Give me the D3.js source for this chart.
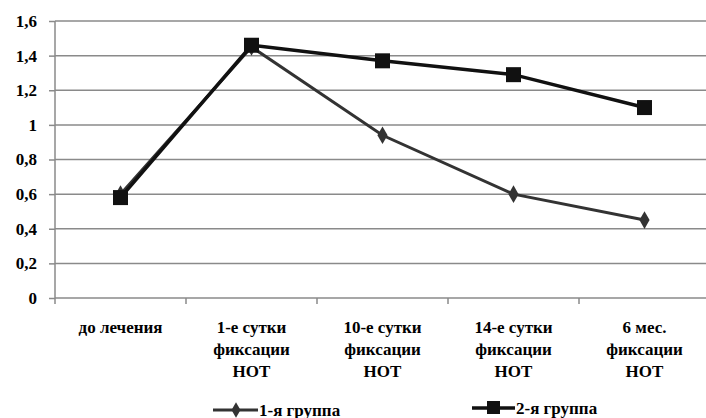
<!DOCTYPE html>
<html><head><meta charset="utf-8">
<script src="https://cdn.jsdelivr.net/npm/d3@7"></script>
</head><body style="margin:0;overflow:hidden">
<script>
const categories = [["до лечения"],["1-е сутки","фиксации","НОТ"],["10-е сутки","фиксации","НОТ"],["14-е сутки","фиксации","НОТ"],["6 мес.","фиксации","НОТ"]];
const group1 = [0.60, 1.45, 0.94, 0.60, 0.45];
const group2 = [0.58, 1.46, 1.37, 1.29, 1.10];
const seriesNames = ["1-я группа","2-я группа"];
const yTicks = [0,0.2,0.4,0.6,0.8,1,1.2,1.4,1.6];

const W=706,H=418;
const svg=d3.select("body").append("svg").attr("width",W).attr("height",H).style("display","block");
const x=d3.scaleBand().domain(d3.range(categories.length)).range([55,710]);
const y=d3.scaleLinear().domain([0,1.6]).range([298,21]);
function st(sel){return sel.style("font-family","Liberation Serif").style("font-weight","bold").style("font-size","17px").attr("fill","#000");}

svg.append("g").selectAll("line").data(yTicks.slice(1)).join("line")
 .attr("x1",55).attr("x2",710).attr("y1",d=>y(d)).attr("y2",d=>y(d))
 .attr("stroke","#8a8a8a").attr("stroke-width",1.5);

const ya=svg.append("g").attr("transform","translate(55,0)")
 .call(d3.axisLeft(y).tickValues(yTicks).tickSize(6).tickPadding(12).tickFormat(d=>String(d).replace(".",",")));
ya.attr("font-family",null).attr("font-size",null);
ya.select(".domain").attr("stroke","#8a8a8a").attr("stroke-width",1.5).attr("d","M0,"+y(1.6)+"V"+y(0));
ya.selectAll(".tick line").attr("stroke","#8a8a8a").attr("stroke-width",1.5);
st(ya.selectAll(".tick text"));

const xa=svg.append("g").attr("transform","translate(0,"+y(0)+")");
xa.append("line").attr("x1",55).attr("x2",710).attr("stroke","#8a8a8a").attr("stroke-width",1.5);
xa.selectAll("line.t").data(d3.range(categories.length+1)).join("line").attr("class","t")
 .attr("x1",d=>55+d*x.bandwidth()).attr("x2",d=>55+d*x.bandwidth()).attr("y1",0).attr("y2",6)
 .attr("stroke","#8a8a8a").attr("stroke-width",1.5);
const lab=st(svg.append("g").selectAll("text").data(categories).join("text")
 .attr("text-anchor","middle").attr("x",(d,i)=>x(i)+x.bandwidth()/2).attr("y",333));
lab.selectAll("tspan").data(d=>d).join("tspan")
 .attr("x",function(){return this.parentNode.getAttribute("x");}).attr("dy",(d,i)=>i?22:0).text(d=>d);

const cx=i=>x(i)+x.bandwidth()/2;
const line=d3.line().x((d,i)=>cx(i)).y(d=>y(d));
svg.append("path").datum(group1).attr("d",line).attr("fill","none").attr("stroke","#333").attr("stroke-width",3);
svg.append("g").selectAll("path").data(group1).join("path")
 .attr("d",d3.symbol(d3.symbolDiamond,90)).attr("transform",(d,i)=>"translate("+cx(i)+","+y(d)+")").attr("fill","#333");
svg.append("path").datum(group2).attr("d",line).attr("fill","none").attr("stroke","#111").attr("stroke-width",3.5);
svg.append("g").selectAll("rect").data(group2).join("rect")
 .attr("x",(d,i)=>cx(i)-7.5).attr("y",d=>y(d)-7.5).attr("width",15).attr("height",15).attr("fill","#111");

const lg1=svg.append("g");
lg1.append("line").attr("x1",213).attr("x2",258).attr("y1",410).attr("y2",410).attr("stroke","#333").attr("stroke-width",3);
lg1.append("path").attr("d",d3.symbol(d3.symbolDiamond,70)).attr("transform","translate(236,410)").attr("fill","#333");
st(lg1.append("text").attr("x",259).attr("y",416).text(seriesNames[0]));
const lg2=svg.append("g");
lg2.append("line").attr("x1",472).attr("x2",515).attr("y1",408).attr("y2",408).attr("stroke","#111").attr("stroke-width",3.5);
lg2.append("rect").attr("x",487).attr("y",401).attr("width",13).attr("height",13).attr("fill","#111");
st(lg2.append("text").attr("x",516).attr("y",414).text(seriesNames[1]));
</script>
</body></html>
